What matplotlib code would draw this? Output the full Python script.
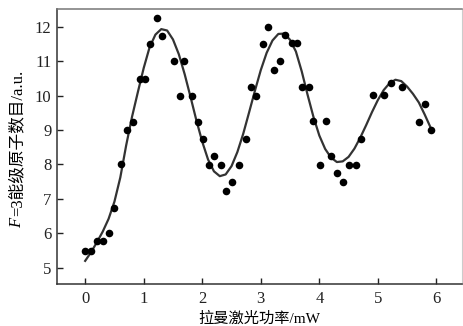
import numpy as np
import matplotlib.pyplot as plt

# measured points (Raman laser power in mW, F=3 population in a.u.)
power = [0.00, 0.10, 0.20, 0.31, 0.41, 0.50, 0.62, 0.72, 0.82, 0.94,
         1.03, 1.11, 1.23, 1.32, 1.52, 1.69, 1.62, 1.83, 1.93, 2.02,
         2.20, 2.12, 2.32, 2.62, 2.51, 2.41, 2.74, 2.84, 2.92, 3.03,
         3.13, 3.22, 3.33, 3.42, 3.54, 3.62, 3.71, 3.83, 3.90, 4.12,
         4.20, 4.01, 4.31, 4.41, 4.51, 4.62, 4.72, 4.91, 5.11, 5.23,
         5.42, 5.81, 5.71, 5.91]
atoms = [5.50, 5.50, 5.78, 5.78, 6.00, 6.74, 8.00, 9.00, 9.24, 10.49,
         10.49, 11.50, 12.26, 11.74, 11.00, 11.00, 10.00, 10.00, 9.24, 8.74,
         8.25, 7.97, 7.99, 7.99, 7.49, 7.23, 8.74, 10.26, 10.00, 11.50,
         12.00, 10.74, 11.00, 11.77, 11.53, 11.53, 10.26, 10.26, 9.27, 9.27,
         8.25, 7.99, 7.75, 7.49, 7.99, 7.99, 8.74, 10.02, 10.02, 10.37,
         10.26, 9.76, 9.24, 9.00]

# fitted curve
fit_x = [0.0, 0.1, 0.2, 0.3, 0.4, 0.5, 0.6, 0.7, 0.8, 0.9,
         1.0, 1.1, 1.2, 1.3, 1.4, 1.5, 1.6, 1.7, 1.8, 1.9,
         2.0, 2.1, 2.2, 2.3, 2.4, 2.5, 2.6, 2.7, 2.8, 2.9,
         3.0, 3.1, 3.2, 3.3, 3.4, 3.5, 3.6, 3.7, 3.8, 3.9,
         4.0, 4.1, 4.2, 4.3, 4.4, 4.5, 4.6, 4.7, 4.8, 4.9,
         5.0, 5.1, 5.2, 5.3, 5.4, 5.5, 5.6, 5.7, 5.8, 5.92]
fit_y = [5.20, 5.45, 5.74, 6.05, 6.42, 6.92, 7.62, 8.55, 9.38, 10.10,
         10.80, 11.40, 11.77, 11.93, 11.89, 11.63, 11.20, 10.62, 9.96, 9.28,
         8.66, 8.14, 7.80, 7.66, 7.71, 7.95, 8.36, 8.89, 9.51, 10.14,
         10.74, 11.24, 11.60, 11.79, 11.80, 11.62, 11.28, 10.70, 10.02, 9.38,
         8.84, 8.45, 8.20, 8.07, 8.09, 8.22, 8.46, 8.78, 9.14, 9.52,
         9.87, 10.16, 10.36, 10.46, 10.42, 10.26, 10.05, 9.80, 9.45, 9.00]

serif = ['Liberation Serif', 'Noto Sans CJK SC']
plt.rcParams['font.family'] = serif

fig = plt.figure(figsize=(4.64, 3.26), dpi=100)
ax = fig.add_axes([0.123, 0.129, 0.873, 0.844])

ax.plot(fit_x, fit_y, color='#333333', lw=1.6, zorder=2)
ax.scatter(power, atoms, s=30, color='black', zorder=3, linewidths=0)

ax.set_xlim(-0.48, 6.44)
ax.set_ylim(4.53, 12.52)
ax.set_xticks(np.arange(0, 7, 1))
ax.set_yticks(np.arange(5, 13, 1))
ax.tick_params(direction='in', length=4, width=1, labelsize=12, colors='#222222')
ax.tick_params(axis='x', pad=5)
ax.tick_params(axis='y', pad=4)

for s in ['left', 'bottom']:
    ax.spines[s].set_linewidth(1.1)
    ax.spines[s].set_color('#333333')
ax.spines['top'].set_linewidth(1.1)
ax.spines['top'].set_color('#777777')
ax.spines['right'].set_color('#cccccc')
ax.spines['right'].set_linewidth(0.8)

ax.set_xlabel('拉曼激光功率/mW', fontsize=11, family=serif, labelpad=3)

# y label: italic F followed by the rest, stacked along the left edge
fig.text(0.037, 0.302, 'F', rotation=90, ha='center', va='bottom',
         fontsize=12, style='italic', family=serif)
fig.text(0.037, 0.336, '=3能级原子数目/a.u.', rotation=90, ha='center',
         va='bottom', fontsize=12, family=serif)

fig.savefig('out.png', dpi=100)
